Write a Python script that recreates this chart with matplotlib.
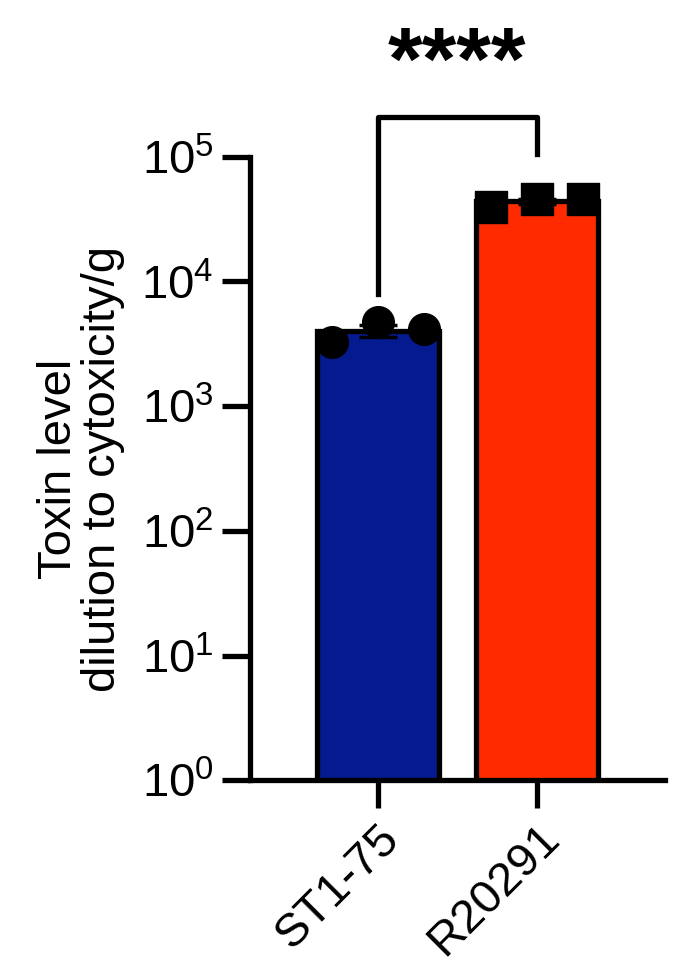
import numpy as np
import matplotlib
matplotlib.use("Agg")
import matplotlib.pyplot as plt
from matplotlib.ticker import FixedLocator, NullLocator

plt.rcParams['font.family'] = ['Liberation Sans', 'DejaVu Sans']
plt.rcParams['mathtext.fontset'] = 'custom'
plt.rcParams['mathtext.rm'] = 'Liberation Sans'
plt.rcParams['mathtext.it'] = 'Liberation Sans'

categories = ["ST1-75", "R20291"]
st1_points = [3270, 4740, 4170]
r20_points = [39800, 46000, 46000]
colors = ["#061a8f", "#ff2a00"]
markers = ["o", "s"]
sig_label = "****"

fig = plt.figure(figsize=(6.79, 9.68), dpi=100)
ax = fig.add_axes([0.368, 0.194, 0.611, 0.644])
groups = [st1_points, r20_points]
for i, pts in enumerate(groups):
    m = np.exp(np.mean(np.log(pts)))
    sem = np.std(pts, ddof=1) / np.sqrt(len(pts))
    ax.bar(i, m, width=0.77, color=colors[i], edgecolor="black", linewidth=3.8, zorder=2)
    ax.errorbar(i, m, yerr=sem, color="black", capsize=14, elinewidth=2.5, capthick=2.5, zorder=3)
    xs = [i - 0.29, i, i + 0.29]
    ax.scatter(xs, pts, marker=markers[i], s=520, color="black", zorder=4, clip_on=False)

ax.set_yscale("log")
ax.set_ylim(1, 1e5)
ax.set_xlim(-0.805, 1.805)
ax.yaxis.set_major_locator(FixedLocator([1, 10, 100, 1e3, 1e4, 1e5]))
ax.yaxis.set_minor_locator(NullLocator())
ax.set_yticklabels([r"$\mathregular{10^{%d}}$" % k for k in range(6)])
ax.set_xticks([0, 1])
ax.set_xticklabels(categories, rotation=45, ha="right", rotation_mode="anchor")
for s in ["top", "right"]:
    ax.spines[s].set_visible(False)
for s in ["left", "bottom"]:
    ax.spines[s].set_linewidth(3.8)
ax.tick_params(axis="both", length=20, width=3.8, labelsize=34, pad=6)
ax.set_ylabel("Toxin level\ndilution to cytoxicity/g", fontsize=34, labelpad=12, linespacing=1.0)

# significance bracket
ax.plot([0, 0, 1, 1], [8000, 2.1e5, 2.1e5, 1.05e5], color="black", lw=3.8, clip_on=False)
ax.text(0.5, 2.45e5, sig_label, ha="center", va="bottom", fontsize=64, fontweight="bold")

fig.savefig("out.png", dpi=100)
